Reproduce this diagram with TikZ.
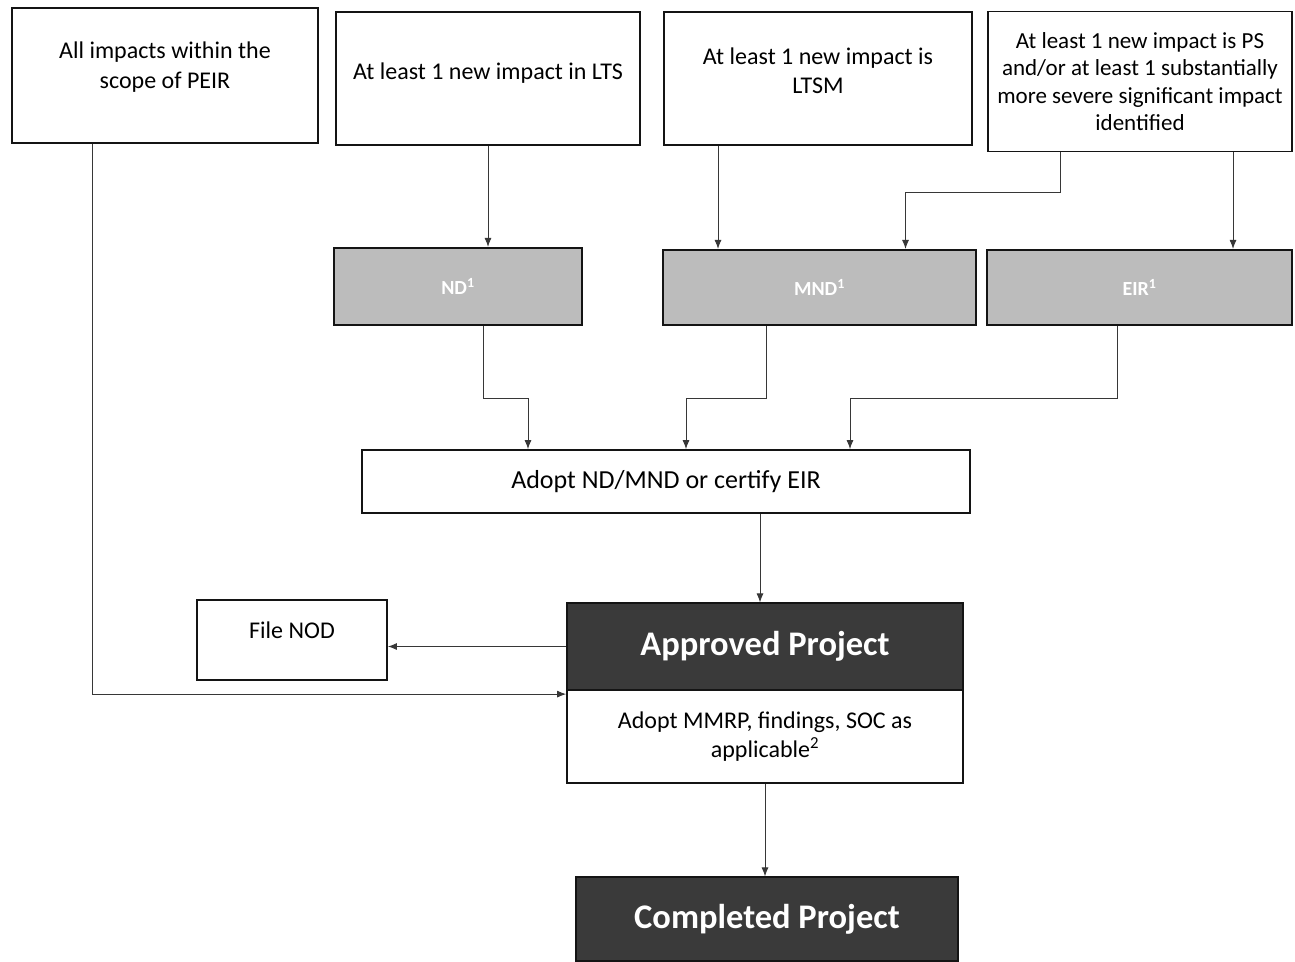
\documentclass[tikz,border=0pt]{standalone}
\usepackage{fontspec}
\setmainfont{Carlito}
\usetikzlibrary{arrows.meta,positioning,calc}
\definecolor{ink}{RGB}{20,20,20}
\definecolor{shade}{RGB}{188,188,188}
\definecolor{dark}{RGB}{58,58,58}

\begin{document}
\begin{tikzpicture}[x=1pt,y=-1pt,>={Latex[length=9pt,width=7pt]},
  box/.style={draw=ink,line width=1.8pt,fill=white,align=center,inner sep=0pt,
    font=\fontsize{24}{29.5}\selectfont},
  gbox/.style={draw=ink,line width=2.2pt,fill=shade,text=white,inner sep=0pt,
    font=\bfseries\fontsize{20}{24}\selectfont},
  dbox/.style={draw=ink,line width=1.2pt,fill=dark,text=white,inner sep=0pt,
    font=\bfseries\fontsize{34.5}{40}\selectfont},
  link/.style={->,draw=ink!85,line width=0.9pt}]
 \useasboundingbox[fill=white] (0,0) rectangle (1295,961);
 % conditions
 \node[box,minimum width=306,minimum height=135] (peir) at (165,75.5)
   {All impacts within the\\scope of PEIR\\[-9pt]~};
 \node[box,minimum width=304,minimum height=133] (lts) at (488,78.5)
   {At least 1 new impact in LTS\\[-14pt]~};
 \node[box,minimum width=308,minimum height=133] (ltsm) at (818,78.5)
   {At least 1 new impact is\\LTSM\\[-14pt]~};
 \node[box,minimum width=304,minimum height=140,font=\fontsize{23}{27.5}\selectfont] (ps) at (1140,81.5)
   {At least 1 new impact is PS\\and/or at least 1 substantially\\more severe significant impact\\identified};
 % documents
 \node[gbox,minimum width=248,minimum height=77] (nd) at (458,286.5) {ND\textsuperscript{1}};
 \node[gbox,minimum width=313,minimum height=75] (mnd) at (819.5,287.5) {MND\textsuperscript{1}};
 \node[gbox,minimum width=305,minimum height=75] (eir) at (1139.5,287.5) {EIR\textsuperscript{1}};
 \node[box,minimum width=608,minimum height=63,font=\fontsize{26}{30}\selectfont] (adopt) at (666,481.5)
   {Adopt ND/MND or certify EIR};
 % approval
 \node[box,minimum width=190,minimum height=80] (nod) at (292,640) {File NOD\\[-10pt]~};
 \node[dbox,minimum width=396,minimum height=87] (appr) at (765,646.5) {Approved Project};
 \node[box,minimum width=396,minimum height=93] (mmrp) at (765,736.5)
   {Adopt MMRP, findings, SOC as\\applicable\textsuperscript{2}};
 \node[dbox,minimum width=382,minimum height=84] (done) at (767,919) {Completed Project};
 \coordinate (j) at ($(mmrp.north west)+(0,5)$);
 % connectors
 \draw[link] (lts.south) -- (lts.south |- nd.north);
 \draw[link] ([xshift=-100]ltsm.south) -- ([xshift=-100]ltsm.south |- mnd.north);
 \draw[link] ([xshift=-80]ps.south) -- ++(0,40) -| ([xshift=86]mnd.north);
 \draw[link] ([xshift=93]ps.south) -- ([xshift=93]ps.south |- eir.north);
 \draw[link] ([xshift=25]nd.south) -- ++(0,72) -| ([xshift=-138]adopt.north);
 \draw[link] ([xshift=-53]mnd.south) -- ++(0,72) -| ([xshift=20]adopt.north);
 \draw[link] ([xshift=-22]eir.south) -- ++(0,72) -| ([xshift=184]adopt.north);
 \draw[link] ([xshift=-5]appr.north |- adopt.south) -- ([xshift=-5]appr.north);
 \draw[link] (appr.west) -- (appr.west -| nod.east);
 \draw[link] ([xshift=-73]peir.south) |- (j);
 \draw[link] (mmrp.south) -- (mmrp.south |- done.north);
\end{tikzpicture}
\end{document}
